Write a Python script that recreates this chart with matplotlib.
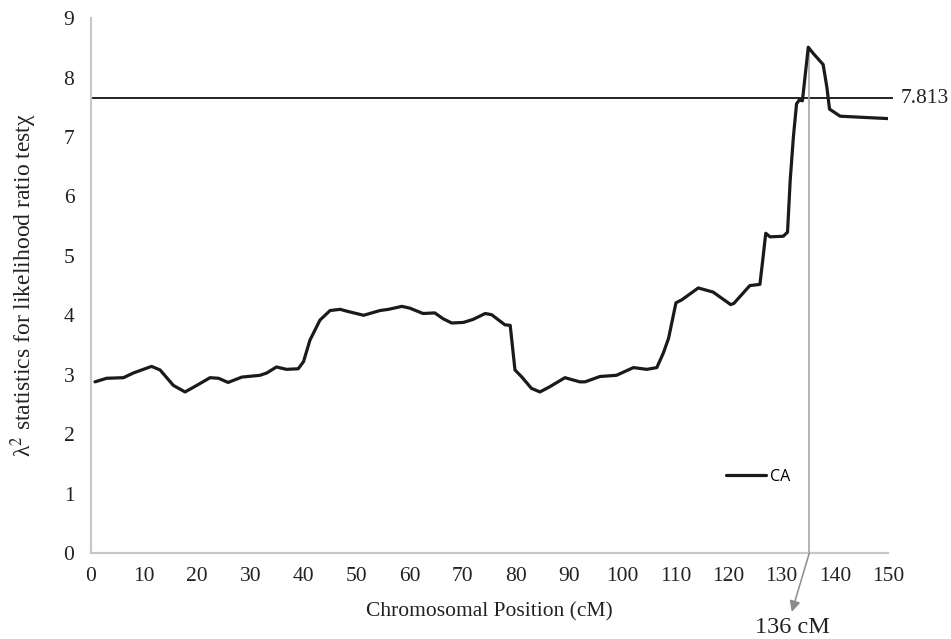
import numpy as np
import matplotlib.pyplot as plt

# ===== Veri =====
pos_cm = [0.75, 2.95, 6.1, 8.0, 11.4, 13.0, 15.5, 17.7, 19.9, 22.4, 24.0, 25.8,
          28.4, 31.8, 33.1, 34.9, 36.8, 39.0, 40.0, 41.2, 43.1, 45.0, 46.9, 48.1,
          51.3, 54.4, 56.0, 58.5, 60.0, 62.5, 64.7, 66.3, 67.9, 70.1, 71.9, 74.2,
          75.4, 77.9, 78.9, 79.2, 79.8, 81.1, 82.9, 84.5, 86.4, 89.2, 92.0, 93.0,
          95.8, 98.9, 102.1, 104.6, 106.5, 107.7, 108.7, 110.1, 111.2, 114.3,
          117.1, 120.4, 121.0, 124.0, 125.9, 126.5, 127.0, 127.8, 130.3, 131.1,
          131.6, 132.2, 132.8, 133.3, 133.9, 135.0, 136.0, 137.8, 138.5, 139.0,
          141.0, 145.4, 150.0]
lr_stat = [2.88, 2.94, 2.95, 3.03, 3.14, 3.08, 2.82, 2.71, 2.82, 2.95, 2.94, 2.87,
           2.96, 2.99, 3.03, 3.13, 3.09, 3.10, 3.22, 3.58, 3.92, 4.08, 4.10, 4.07,
           4.00, 4.08, 4.10, 4.15, 4.12, 4.03, 4.04, 3.94, 3.87, 3.88, 3.93, 4.03,
           4.01, 3.84, 3.83, 3.58, 3.08, 2.96, 2.77, 2.71, 2.80, 2.95, 2.88, 2.88,
           2.97, 2.99, 3.12, 3.09, 3.12, 3.36, 3.61, 4.21, 4.26, 4.46,
           4.39, 4.18, 4.20, 4.50, 4.52, 4.98, 5.38, 5.32, 5.33, 5.40,
           6.27, 7.00, 7.56, 7.62, 7.61, 8.51, 8.40, 8.22, 7.84, 7.47,
           7.35, 7.33, 7.31]

threshold_y = 7.65      # çizgi konumu (grafikte okunan)
threshold_label = "7.813"
peak_pos = 135.2
peak_label = "136 cM"
x_ticks = list(range(0, 151, 10))
y_ticks = list(range(0, 10))

# ===== Stil =====
plt.rcParams['font.family'] = ['Liberation Serif', 'DejaVu Serif']
plt.rcParams['mathtext.fontset'] = 'stix'

fig = plt.figure(figsize=(9.51, 6.39), dpi=100)
ax = fig.add_axes([0.0957, 0.1346, 0.838, 0.837])

ax.plot(pos_cm, lr_stat, color='#1a1a1a', linewidth=2.3, label='CA',
        solid_joinstyle='round', solid_capstyle='round', zorder=3)

# eşik çizgisi
ax.plot([0, 150.7], [threshold_y, threshold_y], color='#222222', linewidth=1.4,
        clip_on=False, zorder=2)
ax.text(152.3, threshold_y, threshold_label, fontsize=15.5, va='center', ha='left',
        color='#222222')

# tepe noktası çizgisi ve ok
peak_val = max(lr_stat)
ax.plot([peak_pos, peak_pos], [0, peak_val], color='#a6a6a6', linewidth=1.2, zorder=2)
ax.annotate("", xy=(131.9, -0.99), xytext=(peak_pos, 0),
            arrowprops=dict(arrowstyle='-|>', color='#8c8c8c', lw=1.1,
                            mutation_scale=16, shrinkA=0, shrinkB=0),
            annotation_clip=False)
ax.text(132.1, -1.26, peak_label, fontsize=17.5, ha='center', va='center',
        color='#222222')

ax.set_xlim(0, 150)
ax.set_ylim(0, 9)
ax.set_xticks(x_ticks)
ax.set_yticks(y_ticks)
ax.tick_params(length=0, labelsize=15.5, colors='#222222')
ax.tick_params(axis='x', pad=10)
ax.tick_params(axis='y', pad=12)

for side in ['top', 'right']:
    ax.spines[side].set_visible(False)
for side in ['left', 'bottom']:
    ax.spines[side].set_color('#c8c8c8')
    ax.spines[side].set_linewidth(1.6)

fig.text(0.515, 0.042, "Chromosomal Position (cM)", fontsize=15.5, ha='center',
         va='center', color='#222222')
fig.text(0.025, 0.554, r"λ$^2$ statistics for likelihood ratio testχ", fontsize=17,
         rotation=90, ha='center', va='center', color='#222222')

leg = ax.legend(loc='center left', bbox_to_anchor=(0.797, 0.1426), frameon=False,
                borderaxespad=0, borderpad=0, handlelength=2.5, handletextpad=0.25,
                prop={'family': 'Open Sans', 'size': 11.5})

fig.savefig('out.png', dpi=100)
